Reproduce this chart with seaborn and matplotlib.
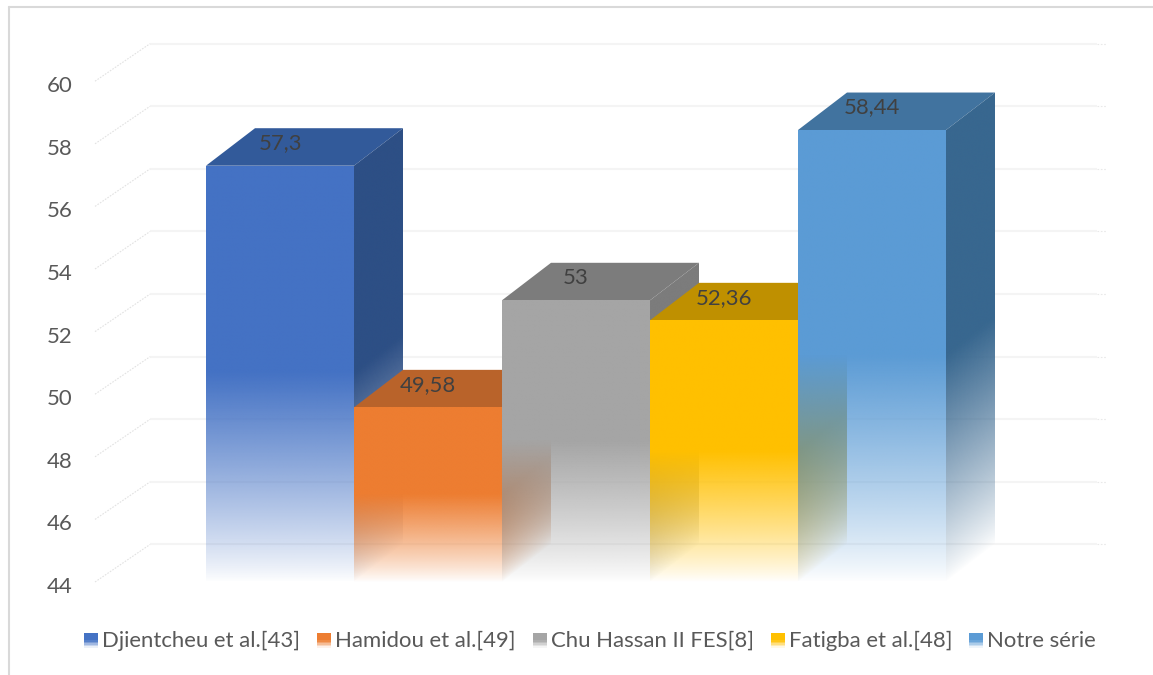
import numpy as np
import pandas as pd
import matplotlib
matplotlib.use("Agg")
import matplotlib.pyplot as plt
import seaborn as sns
from matplotlib.colors import to_rgb
from matplotlib.legend_handler import HandlerBase
from matplotlib.lines import Line2D
from matplotlib.patches import Polygon, Rectangle
from matplotlib.transforms import ScaledTranslation

# Chart data
sources = ["Djientcheu et al.[43]", "Hamidou et al.[49]", "Chu Hassan II FES[8]",
           "Fatigba et al.[48]", "Notre série"]
values = [57.3, 49.58, 53, 52.36, 58.44]
value_labels = ["57,3", "49,58", "53", "52,36", "58,44"]
y_ticks = [44, 46, 48, 50, 52, 54, 56, 58, 60]

# Face colours of each box
front_colors = ["#4472C4", "#ED7D31", "#A5A5A5", "#FFC000", "#5B9BD5"]
top_colors = ["#325A9A", "#B9632A", "#7C7C7C", "#BF9000", "#41739F"]
side_colors = ["#2D4F85", "#BE5F1E", "#7C7C7C", "#BF9000", "#38678F"]

W, H = 1153, 675
BASE = 44.0
BASE_PX = 582
PX_PER_UNIT = 31.3      # vertical scale
PX_PER_CAT = 148.0      # horizontal scale
DEPTH_X = 49 / PX_PER_CAT
DEPTH_Y = 37.5 / PX_PER_UNIT
TEXT = "#595959"
FONT_SIZE = 15.9

sns.set_theme(style="white", rc={"font.family": ["Lato", "DejaVu Sans"]})
plt.rcParams["font.family"] = ["Lato", "DejaVu Sans"]

fig = plt.figure(figsize=(W / 100, H / 100), dpi=100, facecolor="white")
ax_left = 95
ax = fig.add_axes([ax_left / W, 0, (W - ax_left) / W, 1])

df = pd.DataFrame({"source": sources, "value": values})
sns.barplot(data=df, x="source", y="value", hue="source", palette=front_colors,
            width=1.0, dodge=False, legend=False, saturation=1, ax=ax, zorder=1)

xlim = ((ax_left - 280) / PX_PER_CAT, (W - 280) / PX_PER_CAT)
ylim = (BASE - (H - BASE_PX) / PX_PER_UNIT, BASE + BASE_PX / PX_PER_UNIT)


def fade(v, top):
    """Opacity of a face: solid over the upper half, then fading out to the base."""
    t = (v - BASE) / (top - BASE)
    return np.clip(t / 0.5, 0, 1) ** 0.85


def gradient_face(x0, x1, y0, y1, color, top, poly, slope, zorder):
    """Paint a polygon with the fading fill; slope shears the gradient for side faces."""
    xs = np.linspace(x0, x1, 160)
    ys = np.linspace(y1, y0, 900)
    xx, yy = np.meshgrid(xs, ys)
    vv = yy - slope * (xx - x0)
    rgba = np.zeros(xx.shape + (4,))
    rgba[..., :3] = to_rgb(color)
    rgba[..., 3] = fade(vv, top)
    im = ax.imshow(rgba, extent=(x0, x1, y0, y1), aspect="auto", origin="upper",
                   interpolation="bilinear", zorder=zorder)
    clip = Polygon(poly, closed=True, transform=ax.transData)
    im.set_clip_path(clip)


# Back wall gridlines and their dotted returns on the left wall
wall_left = xlim[0] + 55 / PX_PER_CAT
wall_right = (1097 - 280) / PX_PER_CAT
wall_end = (1107 - 280) / PX_PER_CAT
for t in y_ticks:
    yb = t + DEPTH_Y
    ax.plot([wall_left, wall_right], [yb, yb], color="#F4F4F4", lw=1.5, zorder=0.5,
            solid_capstyle="butt")
    ax.plot([wall_right, wall_end], [yb, yb], color="#E9E9E9", lw=0.8, ls=(0, (1.5, 1.5)),
            zorder=0.5)
    ax.plot([xlim[0], wall_left], [t, yb], color="#E2E2E2", lw=0.8, ls=(0, (1.5, 1.2)),
            zorder=0.5, clip_on=False)

# Boxes, painted left to right so each front face sits over its neighbour's side
for i, patch in enumerate(ax.patches[:len(values)]):
    patch.set_visible(False)
    xl = patch.get_x()
    xr = xl + patch.get_width()
    top = patch.get_height()
    z = 2 + i

    ax.add_patch(Polygon([(xl, top), (xl + DEPTH_X, top + DEPTH_Y),
                          (xr + DEPTH_X, top + DEPTH_Y), (xr, top)],
                         closed=True, fc=top_colors[i], ec="none", zorder=z))

    side = [(xr, BASE), (xr + DEPTH_X, BASE + DEPTH_Y),
            (xr + DEPTH_X, top + DEPTH_Y), (xr, top)]
    gradient_face(xr, xr + DEPTH_X, BASE, top + DEPTH_Y, side_colors[i], top, side,
                  DEPTH_Y / DEPTH_X, z + 0.1)

    front = [(xl, BASE), (xr, BASE), (xr, top), (xl, top)]
    gradient_face(xl, xr, BASE, top, front_colors[i], top, front, 0, z + 0.2)

# Value labels on the top faces
for i, (v, lab) in enumerate(zip(values, value_labels)):
    ax.text(i, v + 0.72, lab, ha="center", va="center", color="#404040",
            fontsize=FONT_SIZE, zorder=20)

ax.set_xlim(*xlim)
ax.set_ylim(*ylim)
ax.set_xlabel("")
ax.set_ylabel("")
ax.set_xticks([])
ax.set_yticks(y_ticks)
ax.set_yticklabels([str(t) for t in y_ticks])
ax.tick_params(axis="y", length=0, pad=16, labelsize=FONT_SIZE, labelcolor=TEXT)
nudge = ScaledTranslation(0, -3 / 100, fig.dpi_scale_trans)
for lab in ax.get_yticklabels():
    lab.set_transform(lab.get_transform() + nudge)
ax.patch.set_alpha(0)
sns.despine(ax=ax, left=True, bottom=True)


class FadeSwatch(HandlerBase):
    """Legend key with the same solid-to-transparent fill as the boxes."""

    def create_artists(self, legend, orig_handle, xdescent, ydescent, width, height,
                       fontsize, trans):
        steps = 10
        artists = []
        for k in range(steps):
            frac = k / steps
            alpha = 1 if frac > 0.5 else (frac + 0.05) / 0.5
            artists.append(Rectangle((xdescent, ydescent + height * frac), width,
                                     height / steps, fc=orig_handle.get_facecolor(),
                                     alpha=min(alpha, 1), ec="none", transform=trans))
        return artists


handles = [Rectangle((0, 0), 1, 1, fc=c) for c in front_colors]
leg = ax.legend(handles, sources, handler_map={Rectangle: FadeSwatch()}, ncol=5,
                loc="center", bbox_to_anchor=(590 / W, 1 - 641 / H),
                bbox_transform=fig.transFigure, frameon=False, fontsize=FONT_SIZE,
                handlelength=0.64, handleheight=0.64, handletextpad=0.18,
                columnspacing=0.77, labelcolor=TEXT)

# Outer chart frame
frame = dict(color="#D9D9D9", lw=1.5, transform=fig.transFigure)
fig.add_artist(Line2D([9 / W, 9 / W], [0, 1 - 7 / H], **frame))
fig.add_artist(Line2D([9 / W, 1], [1 - 7 / H, 1 - 7 / H], **frame))

fig.savefig("out.png", dpi=100, facecolor="white")
